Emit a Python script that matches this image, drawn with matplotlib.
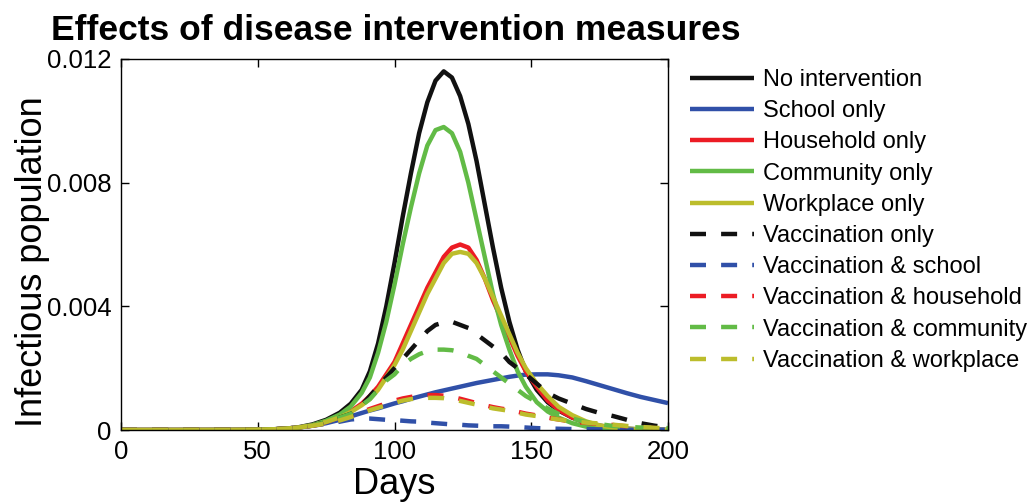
import matplotlib
matplotlib.use("Agg")
import matplotlib.pyplot as plt

plt.rcParams['font.family'] = ['Liberation Sans', 'DejaVu Sans']

days = [0, 20, 40, 50, 55, 60, 65, 70, 75, 80, 84, 88, 91, 94, 97, 100, 103, 106, 109,
        112, 115, 118, 121, 124, 127, 130, 133, 136, 139, 142, 145, 148, 152, 156, 160,
        165, 170, 175, 180, 185, 190, 195, 200]

no_intervention = [0, 0, 0.000002, 0.000008, 0.00002, 0.00004, 0.00009, 0.00018, 0.00033,
                   0.00056, 0.00085, 0.0013, 0.0019, 0.0028, 0.0040, 0.0054, 0.0069, 0.0083,
                   0.0096, 0.0106, 0.0113, 0.0116, 0.0114, 0.0108, 0.0099, 0.0087, 0.0073,
                   0.0059, 0.0046, 0.0035, 0.0026, 0.0019, 0.0013, 0.0009, 0.00063, 0.0004,
                   0.00024, 0.00014, 0.00008, 0.00004, 0.00002, 0.00001, 0]
school_only = [0, 0, 0.000002, 0.000008, 0.00002, 0.00004, 0.00008, 0.00014, 0.00022,
               0.00033, 0.00044, 0.00055, 0.00063, 0.0007, 0.00078, 0.00086, 0.00093,
               0.00101, 0.00108, 0.00115, 0.00122, 0.00128, 0.00134, 0.0014, 0.00146,
               0.00152, 0.00157, 0.00162, 0.00167, 0.00172, 0.00176, 0.00179, 0.0018,
               0.0018, 0.00177, 0.0017, 0.00158, 0.00145, 0.00132, 0.00119, 0.00107,
               0.00097, 0.00087]
household_only = [0, 0, 0.000002, 0.000008, 0.00002, 0.00004, 0.00008, 0.00015, 0.00026,
                  0.00042, 0.0006, 0.00085, 0.0011, 0.0014, 0.0018, 0.0022, 0.0028, 0.0034,
                  0.0040, 0.0046, 0.0051, 0.0056, 0.0059, 0.0060, 0.0059, 0.0055, 0.0049,
                  0.0042, 0.0036, 0.0030, 0.0024, 0.0019, 0.0014, 0.00095, 0.00065, 0.0004,
                  0.00023, 0.00012, 0.00006, 0.00003, 0.00001, 0, 0]
community_only = [0, 0, 0.000002, 0.000008, 0.00002, 0.00004, 0.00008, 0.00016, 0.0003,
                  0.0005, 0.00076, 0.0012, 0.0017, 0.0025, 0.0035, 0.0047, 0.0060, 0.0072,
                  0.0083, 0.0092, 0.0097, 0.0098, 0.0096, 0.0090, 0.0080, 0.0068, 0.0056,
                  0.0044, 0.0034, 0.0026, 0.0019, 0.0014, 0.0009, 0.0006, 0.0004, 0.00022,
                  0.00011, 0.00005, 0.00002, 0.00001, 0, 0, 0]
workplace_only = [0, 0, 0.000002, 0.000008, 0.00002, 0.00004, 0.00008, 0.00015, 0.00026,
                  0.00041, 0.00058, 0.0008, 0.001, 0.0013, 0.0017, 0.0021, 0.0026, 0.0032,
                  0.0038, 0.0044, 0.0049, 0.0054, 0.0057, 0.00576, 0.0057, 0.0054, 0.0049,
                  0.0043, 0.0037, 0.0031, 0.0025, 0.0020, 0.0015, 0.0011, 0.00075, 0.00048,
                  0.00028, 0.00015, 0.00008, 0.00004, 0.00002, 0.00001, 0]
vacc_only = [0, 0, 0.000002, 0.000008, 0.00002, 0.00004, 0.00008, 0.00015, 0.00025, 0.0004,
             0.00052, 0.0008, 0.0011, 0.0014, 0.0017, 0.0020, 0.0023, 0.0026, 0.0029, 0.0032,
             0.0034, 0.00348, 0.0035, 0.0034, 0.0033, 0.0031, 0.0029, 0.0027, 0.0025, 0.0022,
             0.0020, 0.0018, 0.0015, 0.0012, 0.00102, 0.00085, 0.00068, 0.00055, 0.00045,
             0.00033, 0.00022, 0.00014, 0.00008]
vacc_school = [0, 0, 0.000002, 0.000008, 0.00002, 0.00004, 0.00008, 0.00014, 0.0002, 0.00027,
               0.00034, 0.00037, 0.00037, 0.00035, 0.00033, 0.00032, 0.0003, 0.00028,
               0.00027, 0.00024, 0.00022, 0.0002, 0.00018, 0.00017, 0.00015, 0.00014,
               0.00013, 0.00012, 0.00012, 0.00011, 0.0001, 0.00008, 0.00006, 0.00005,
               0.00004, 0.00003, 0.00003, 0.00002, 0.00002, 0.00001, 0.00001, 0.00001,
               0.00001]
vacc_household = [0, 0, 0.000002, 0.000008, 0.00002, 0.00004, 0.00008, 0.00014, 0.00022,
                  0.00033, 0.00045, 0.00058, 0.00068, 0.00077, 0.00086, 0.00095, 0.00102,
                  0.00107, 0.00111, 0.00113, 0.00113, 0.00111, 0.00107, 0.00101, 0.00094,
                  0.00087, 0.0008, 0.00074, 0.00069, 0.00065, 0.00059, 0.00053, 0.00047,
                  0.0004, 0.00034, 0.00027, 0.00023, 0.0002, 0.00016, 0.00012, 0.00009,
                  0.00006, 0.00004]
vacc_community = [0, 0, 0.000002, 0.000008, 0.00002, 0.00004, 0.00008, 0.00015, 0.00025,
                  0.0004, 0.00052, 0.0008, 0.001, 0.0013, 0.0016, 0.0018, 0.0021, 0.0023,
                  0.00245, 0.00255, 0.0026, 0.0026, 0.00258, 0.00252, 0.0024, 0.0023,
                  0.0021, 0.0019, 0.0017, 0.0015, 0.0013, 0.0011, 0.0009, 0.0007, 0.00052,
                  0.00037, 0.00026, 0.00019, 0.00013, 0.0001, 0.00008, 0.00007, 0.00006]
vacc_workplace = [0, 0, 0.000002, 0.000008, 0.00002, 0.00004, 0.00008, 0.00014, 0.00021,
                  0.00031, 0.00042, 0.00054, 0.00064, 0.00072, 0.0008, 0.00088, 0.00095,
                  0.001, 0.00103, 0.00104, 0.00104, 0.00103, 0.00099, 0.00094, 0.00088,
                  0.00082, 0.00076, 0.0007, 0.00066, 0.00062, 0.00056, 0.0005, 0.00045,
                  0.00039, 0.00034, 0.00028, 0.00024, 0.00021, 0.00017, 0.00013, 0.0001,
                  0.00007, 0.00005]

labels = ["No intervention", "School only", "Household only", "Community only",
          "Workplace only", "Vaccination only", "Vaccination & school",
          "Vaccination & household", "Vaccination & community", "Vaccination & workplace"]

series = [no_intervention, school_only, household_only, community_only, workplace_only,
          vacc_only, vacc_school, vacc_household, vacc_community, vacc_workplace]

colors = ["#111111", "#3050a8", "#ec1c24", "#62bb46", "#bcbd2c"] * 2

fig = plt.figure(figsize=(10.31, 5.03), dpi=100)
ax = fig.add_axes([121 / 1031, 1 - 430 / 503, 547 / 1031, 371 / 503])

for i, (ys, lab) in enumerate(zip(series, labels)):
    if i < 5:
        ax.plot(days, ys, color=colors[i], lw=3.2, label=lab, solid_capstyle='butt',
                solid_joinstyle='round')
    else:
        ax.plot(days, ys, color=colors[i], lw=3.2, label=lab, dashes=(3.6, 3.4),
                dash_capstyle='butt', dash_joinstyle='round')

ax.set_xlim(0, 200)
ax.set_ylim(0, 0.012)
ax.set_xticks([0, 50, 100, 150, 200])
ax.set_yticks([0, 0.004, 0.008, 0.012])
ax.set_yticklabels(["0", "0.004", "0.008", "0.012"])
ax.tick_params(direction='in', top=True, right=True, length=6, width=1,
               labelsize=18.5, pad=7)
for s in ax.spines.values():
    s.set_linewidth(1.0)

ax.set_xlabel("Days", fontsize=26, labelpad=2)
ax.set_ylabel("Infectious population", fontsize=26)
ax.yaxis.set_label_coords(-0.130, 0.455)

fig.text(51 / 1031, 1 - 40 / 503, "Effects of disease intervention measures",
         fontsize=25.5, fontweight='bold', ha='left', va='baseline')

ax.legend(loc='upper left', bbox_to_anchor=(690 / 1031, 1 - 69 / 503),
          bbox_transform=fig.transFigure, frameon=False, fontsize=17,
          handlelength=2.7, handletextpad=0.38, labelspacing=0.39,
          borderpad=0, borderaxespad=0)

fig.savefig("out.png", dpi=100)
